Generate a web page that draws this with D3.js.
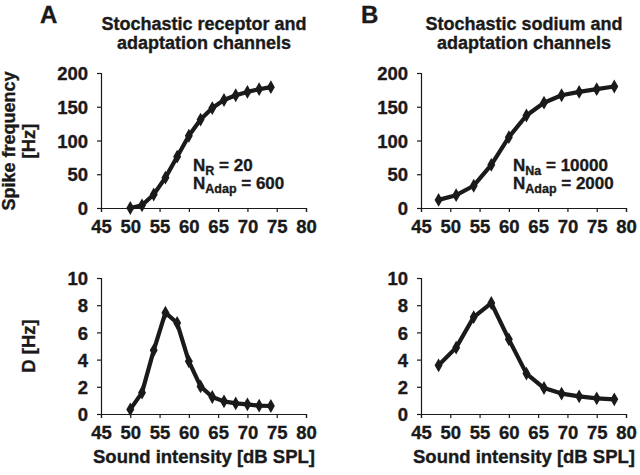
<!DOCTYPE html>
<html><head><meta charset="utf-8">
<script src="https://cdn.jsdelivr.net/npm/d3@7"></script>
<style>
body{margin:0;background:#fff}
text{font-family:"Liberation Sans",Arial,Helvetica,sans-serif;font-weight:bold;fill:#1a1a1a;stroke:#1a1a1a;stroke-width:0.35px}
</style></head>
<body><svg id="c" width="640" height="475"></svg>
<script>
const xTicks = [45,50,55,60,65,70,75,80];
const yTicksF = [0,50,100,150,200];
const yTicksD = [0,2,4,6,8,10];

const intensityA = [50,52,54,56,58,60,62,64,66,68,70,72,74];
const freqA = [0,4,20,45,76,107,131,148,160,167,172,176,179];
const dA = [0.34,1.57,4.68,7.45,6.69,3.87,2.03,1.25,0.93,0.78,0.71,0.61,0.59];

const intensityB = [48,51,54,57,60,63,66,69,72,75,78];
const freqB = [12,19,33,64,105,137,156,167,172,176,180];
const dB = [3.58,4.88,7.13,8.16,5.49,2.97,1.91,1.5,1.3,1.15,1.08];

const svg = d3.select("#c");
const ink = "#1a1a1a";
const FS = "18.5px";

function panel(x0, x1, y0, y1, xs, ys, yTicks, yMax){
  const x = d3.scaleLinear().domain([45,80]).range([x0,x1]);
  const y = d3.scaleLinear().domain([0,yMax]).range([y1,y0]);
  const g = svg.append("g");
  const ax = g.append("g").attr("transform",`translate(0,${y1})`)
    .call(d3.axisBottom(x).tickValues(xTicks).tickSize(4).tickPadding(8).tickFormat(d3.format("d")));
  const ay = g.append("g").attr("transform",`translate(${x0},0)`)
    .call(d3.axisLeft(y).tickValues(yTicks).tickSize(4).tickPadding(9).tickFormat(d3.format("d")));
  [ax,ay].forEach(a=>{
    a.select(".domain").attr("stroke",ink).attr("stroke-width",1.2);
    a.selectAll(".tick line").attr("stroke",ink).attr("stroke-width",1.2);
    a.selectAll("text").style("font-size",FS).attr("fill",ink);
  });
  ay.selectAll("text").attr("dy","0.36em");
  const pts = xs.map((v,i)=>[x(v),y(ys[i])]);
  g.append("path").attr("d",d3.line()(pts)).attr("fill","none")
    .attr("stroke",ink).attr("stroke-width",4.2).attr("stroke-linejoin","round");
  g.selectAll("path.m").data(pts).enter().append("path").attr("class","m")
    .attr("transform",d=>`translate(${d[0]},${d[1]})`)
    .attr("d",d3.symbol().type(d3.symbolDiamond).size(55)).attr("fill",ink);
}

function addTitle(cx, l1, l2){
  svg.append("text").attr("x",cx).attr("y",30).attr("text-anchor","middle").style("font-size","18px").text(l1);
  svg.append("text").attr("x",cx).attr("y",49).attr("text-anchor","middle").style("font-size","18px").text(l2);
}

// Panel A
panel(101,306,73,208,intensityA,freqA,yTicksF,200);
panel(101,306,278,414,intensityA,dA,yTicksD,10);
// Panel B
panel(421,626,73,208,intensityB,freqB,yTicksF,200);
panel(421,626,278,414,intensityB,dB,yTicksD,10);

svg.append("text").attr("x",40).attr("y",23).style("font-size","24px").text("A");
svg.append("text").attr("x",361).attr("y",23).style("font-size","24px").text("B");
addTitle(204,"Stochastic receptor and","adaptation channels");
addTitle(524,"Stochastic sodium and","adaptation channels");

// y labels
svg.append("text").attr("transform","translate(15,141) rotate(-90)").attr("text-anchor","middle").style("font-size","18px").text("Spike frequency");
svg.append("text").attr("transform","translate(35,141) rotate(-90)").attr("text-anchor","middle").style("font-size",FS).text("[Hz]");
svg.append("text").attr("transform","translate(35,346) rotate(-90)").attr("text-anchor","middle").style("font-size",FS).text("D [Hz]");

// x labels
svg.append("text").attr("x",204).attr("y",463).attr("text-anchor","middle").style("font-size",FS).text("Sound intensity [dB SPL]");
svg.append("text").attr("x",524).attr("y",463).attr("text-anchor","middle").style("font-size",FS).text("Sound intensity [dB SPL]");

// annotations
function annot(x, y, sub, val){
  const t = svg.append("text").attr("x",x).attr("y",y).style("font-size","17px");
  t.append("tspan").text("N");
  t.append("tspan").attr("dy",3.5).style("font-size","12.5px").text(sub);
  t.append("tspan").attr("dy",-3.5).text(" = " + val);
}
annot(193,171,"R","20");
annot(193,189,"Adap","600");
annot(513,171,"Na","10000");
annot(513,189,"Adap","2000");
</script></body></html>
